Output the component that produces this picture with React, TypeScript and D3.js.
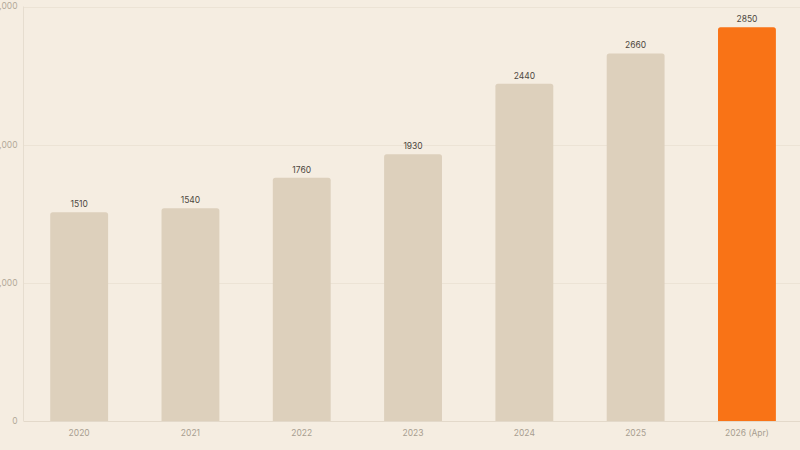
import React from "react";
import * as d3 from "d3";

const categories: string[] = ["2020", "2021", "2022", "2023", "2024", "2025", "2026 (Apr)"];
const values: number[] = [1510, 1540, 1760, 1930, 2440, 2660, 2850];
const yTicks: number[] = [0, 1000, 2000, 3000];
const highlightIndex = 6;

const W = 800;
const H = 450;
const left = 23.5;
const right = 802.6;
const top = 6.5;
const bottom = 421;

function topRoundedRect(x: number, y: number, w: number, h: number, r: number) {
  const rr = Math.min(r, w / 2, h);
  return `M${x},${y + h}V${y + rr}Q${x},${y} ${x + rr},${y}H${x + w - rr}Q${x + w},${y} ${x + w},${y + rr}V${y + h}Z`;
}

export default function App() {
  const x = d3.scaleBand<string>().domain(categories).range([left, right]).paddingInner(0.48).paddingOuter(0.24);
  const y = d3.scaleLinear().domain([0, 3000]).range([bottom, top]);
  const fmt = d3.format(",");
  const font = "Inter, 'Noto Sans', sans-serif";

  return (
    <div style={{ position: "fixed", left: 0, top: 0, width: W, height: H, background: "#f5ede1" }}>
      <svg width={W} height={H} style={{ display: "block" }}>
        <rect x={0} y={0} width={W} height={H} fill="#f5ede1" />
        {yTicks.map((t) => (
          <g key={t}>
            {t > 0 && (
              <line x1={left} x2={W} y1={Math.round(y(t)) + 0.5} y2={Math.round(y(t)) + 0.5} stroke="#ece3d5" strokeWidth={1} />
            )}
            <text
              x={left - 6}
              y={y(t)}
              dy="0.35em"
              textAnchor="end"
              fontFamily={font}
              fontSize={8.5}
              fill="#b3a999"
            >
              {fmt(t)}
            </text>
          </g>
        ))}
        <line x1={left} x2={left} y1={top} y2={bottom} stroke="#e6ddcf" strokeWidth={1} />
        {categories.map((c, i) => {
          const bx = x(c) as number;
          const bw = x.bandwidth();
          const by = y(values[i]);
          return (
            <g key={c}>
              <path
                d={topRoundedRect(bx, by, bw, bottom - by, 2.5)}
                fill={i === highlightIndex ? "#f97316" : "#ddd0bc"}
              />
              <text
                x={bx + bw / 2}
                y={by - 5}
                textAnchor="middle"
                fontFamily={font}
                fontSize={8.5}
                fill="#4d4740"
              >
                {values[i]}
              </text>
              <text
                x={bx + bw / 2}
                y={bottom + 14.5}
                textAnchor="middle"
                fontFamily={font}
                fontSize={8.5}
                fill="#a89e90"
              >
                {c}
              </text>
            </g>
          );
        })}
        <line x1={left} x2={W} y1={bottom + 0.5} y2={bottom + 0.5} stroke="#e3d9ca" strokeWidth={1} />
      </svg>
    </div>
  );
}
